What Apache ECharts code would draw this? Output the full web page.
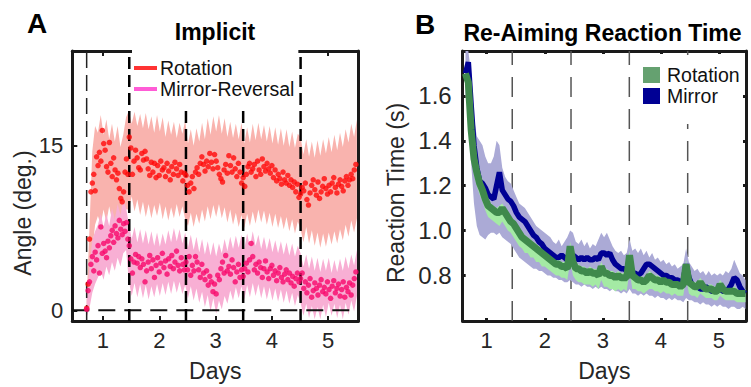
<!DOCTYPE html>
<html><head><meta charset="utf-8">
<script src="https://cdn.jsdelivr.net/npm/echarts@6/dist/echarts.min.js"></script>
<style>html,body{margin:0;padding:0;background:#fff}#c{width:751px;height:387px}</style>
</head><body><div id="c"></div>
<script>
// ---------------- Panel A data (Implicit angle, deg.) ----------------
const aDayTicks = [1, 2, 3, 4, 5];
const aYTicks = [0, 15];
const aBlockBounds = [0.71, 1.467, 2.474, 3.49, 4.51, 5.52];
const aDashLines = [1.467, 2.474, 3.49, 4.51];
const aFirstLine = 0.71;

const rotDay1 = [0.2, 2.4, 6.5, 10.8, 11.6, 12.4, 10.9, 14.0, 13.2, 14.4, 13.6, 16.4, 15.2, 14.6, 13.1, 12.6, 15.3, 13.4, 12.2, 13.9, 12.8, 11.9, 12.5, 11.1, 10.2, 9.9, 10.8, 12.6, 13.8, 12.4];
const rotDay2 = [15.8, 14.8, 12.4, 13.6, 14.6, 13.9, 13.0, 12.8, 14.3, 13.7, 14.5, 13.8, 12.9, 12.3, 13.5, 12.6, 13.4, 12.1, 13.2, 12.3, 13.6, 12.8, 13.0, 12.2, 13.4, 12.7, 11.9, 13.1, 12.4, 13.5, 12.9, 12.3, 13.3, 12.6, 11.8, 12.5];
const rotDay3 = [12.3, 11.4, 10.8, 11.6, 12.2, 11.1, 12.6, 13.0, 12.4, 13.4, 14.0, 13.3, 12.7, 13.6, 13.1, 14.3, 13.5, 12.9, 14.2, 13.6, 13.0, 12.4, 12.0, 11.7, 12.8, 13.3, 12.5, 14.1, 13.2, 12.6, 13.9, 12.9, 12.2, 13.4, 12.6, 11.6];
const rotDay4 = [12.1, 11.3, 12.4, 13.1, 13.4, 12.6, 12.9, 13.3, 12.2, 13.6, 12.8, 12.4, 13.8, 13.1, 12.7, 13.4, 12.9, 12.5, 13.2, 12.1, 12.8, 11.8, 12.4, 12.0, 11.5, 12.6, 11.9, 11.6, 12.3, 11.4, 11.9, 11.2, 11.7, 10.8, 11.5, 10.3];
const rotDay5 = [10.6, 11.2, 10.9, 11.6, 10.1, 9.6, 10.7, 11.4, 11.9, 11.0, 10.5, 11.7, 10.2, 10.8, 11.3, 12.0, 11.1, 10.6, 11.4, 10.8, 11.6, 12.1, 11.2, 10.7, 11.5, 11.9, 11.3, 10.9, 11.8, 12.2, 11.4, 11.9, 12.4, 12.0, 12.8, 13.3];

const mirDay1 = [0.1, 1.8, 2.6, 4.2, 4.9, 3.6, 5.3, 4.6, 5.9, 3.4, 7.6, 5.2, 6.1, 5.4, 4.8, 6.3, 5.7, 6.8, 7.3, 6.2, 7.7, 7.0, 6.6, 8.2, 7.4, 6.9, 7.9, 7.2, 8.0, 6.5];
const mirDay2 = [5.9, 4.7, 3.4, 4.4, 5.1, 4.3, 4.9, 3.9, 4.7, 4.2, 2.6, 3.6, 4.4, 5.0, 3.8, 4.6, 3.0, 4.1, 4.8, 3.5, 4.3, 5.2, 3.9, 4.5, 3.3, 4.7, 4.0, 5.0, 3.8, 4.4, 5.4, 4.1, 3.6, 4.8, 4.2, 3.7];
const mirDay3 = [4.4, 3.7, 4.9, 3.2, 4.1, 3.6, 4.9, 4.4, 3.7, 3.0, 4.2, 3.4, 2.8, 3.6, 2.3, 3.1, 2.6, 1.7, 2.4, 1.5, 3.2, 2.8, 3.8, 4.4, 3.4, 5.0, 3.6, 4.0, 3.3, 4.6, 3.9, 2.6, 3.5, 4.2, 3.0, 3.7];
const mirDay4 = [3.1, 3.8, 4.3, 3.5, 4.6, 6.1, 4.9, 3.7, 4.2, 3.4, 4.4, 3.9, 3.0, 3.8, 4.5, 3.5, 2.9, 3.8, 4.1, 3.2, 3.6, 2.7, 3.4, 3.9, 3.0, 2.6, 3.3, 3.7, 2.8, 3.4, 2.5, 3.1, 2.2, 2.9, 3.4, 2.6];
const mirDay5 = [2.9, 3.4, 2.0, 2.6, 1.6, 2.3, 2.9, 1.2, 1.8, 2.5, 2.0, 1.4, 2.3, 2.8, 1.7, 2.1, 1.5, 2.6, 1.9, 1.1, 2.2, 2.7, 1.6, 2.0, 2.4, 1.3, 1.9, 2.6, 1.2, 2.1, 1.7, 2.5, 1.4, 2.3, 2.9, 3.5];

// band samples: start 0.71, every 0.05 day
const aBandStart = 0.71, aBandStep = 0.05;
const rotUpper = [1.0, 7.5, 14.5, 16.8, 16.2,
  17.8, 16.0, 17.4, 15.6, 17.0, 15.4, 16.8, 14.9, 16.0, 17.6,
  18.2, 17.0, 18.1, 16.8, 17.9, 16.6, 18.0, 16.5, 17.7, 16.2, 17.8, 16.3, 17.6, 15.8, 17.3, 16.0, 17.2, 15.7, 17.1, 16.1,
  17.3, 15.2, 16.5, 15.0, 16.6, 15.4, 17.1, 15.6, 17.5, 16.0, 17.7, 16.3, 17.8, 16.1, 17.5, 15.8, 17.2, 15.7, 17.0, 15.6,
  17.1, 15.2, 16.7, 15.3, 17.0, 15.5, 17.1, 15.6, 16.9, 15.4, 16.8, 15.2, 16.7, 15.1, 16.6, 15.0, 16.5, 14.9, 16.3, 14.8, 16.1,
  15.8, 14.2, 15.6, 14.0, 15.4, 13.9, 15.5, 14.1, 15.6, 14.3, 15.8, 14.4, 16.0, 14.6, 16.2, 14.9, 16.5, 15.3, 17.0, 15.8, 17.4];
const rotLower = [-0.5, 1.0, 5.5, 7.8, 8.6,
  7.8, 9.2, 8.0, 9.5, 8.2, 7.6, 9.0, 7.5, 8.7, 9.2,
  9.2, 10.4, 9.0, 10.1, 8.7, 9.9, 8.5, 9.7, 8.4, 9.6, 8.6, 9.8, 8.3, 9.5, 8.2, 9.4, 8.4, 9.7, 8.5, 9.5,
  8.3, 7.7, 8.9, 7.6, 8.8, 7.9, 9.2, 8.1, 9.5, 8.3, 9.6, 8.5, 9.7, 8.4, 9.4, 8.0, 9.2, 7.8, 8.9, 7.6,
  8.7, 7.5, 8.8, 7.7, 9.0, 7.9, 9.2, 8.0, 9.1, 7.8, 8.9, 7.6, 8.8, 7.5, 8.6, 7.4, 8.5, 7.2, 8.3, 7.0, 8.1,
  7.4, 6.2, 7.6, 6.1, 7.3, 5.9, 7.1, 5.7, 7.0, 5.8, 7.1, 6.0, 7.2, 6.1, 7.4, 6.4, 7.8, 6.7, 8.2, 7.1, 8.4];
const mirUpper = [0.8, 4.0, 6.4, 7.2, 7.8,
  8.8, 7.6, 8.8, 7.7, 9.3, 8.3, 9.7, 8.7, 10.0, 9.3,
  7.9, 6.5, 7.6, 6.2, 7.4, 6.1, 7.3, 6.0, 7.2, 5.9, 7.1, 5.8, 7.0, 6.0, 7.3, 6.2, 7.5, 6.3, 7.4, 6.1,
  7.1, 5.7, 6.9, 5.5, 6.7, 5.3, 6.5, 5.1, 6.3, 5.0, 6.2, 4.9, 6.1, 5.2, 6.5, 5.4, 6.7, 5.6, 6.8, 5.7,
  6.9, 5.6, 7.0, 5.8, 7.2, 5.9, 6.9, 5.6, 6.7, 5.5, 6.6, 5.3, 6.4, 5.2, 6.3, 5.1, 6.2, 5.0, 6.1, 4.9, 5.9,
  5.2, 4.0, 5.1, 3.8, 4.9, 3.6, 4.8, 3.5, 4.7, 3.6, 4.8, 3.4, 4.6, 3.5, 4.7, 3.6, 4.9, 3.8, 5.1, 4.1, 5.5];
const mirLower = [-0.6, 0.2, 1.6, 2.4, 3.0,
  3.6, 2.8, 4.0, 3.2, 4.4, 3.6, 4.8, 4.0, 5.2, 5.5,
  2.7, 1.3, 2.5, 1.2, 2.4, 1.1, 2.3, 1.0, 2.2, 1.2, 2.4, 1.3, 2.5, 1.4, 2.6, 1.5, 2.7, 1.6, 2.6, 1.5,
  2.3, 1.1, 2.2, 0.9, 2.0, 0.7, 1.7, 0.3, 1.4, -0.1, 1.1, -0.3, 0.9, 0.1, 1.3, 0.6, 1.8, 0.9, 2.1, 1.1,
  2.2, 1.0, 2.3, 1.2, 2.5, 1.3, 2.4, 1.1, 2.2, 1.0, 2.1, 0.9, 2.0, 0.8, 1.9, 0.7, 1.8, 0.6, 1.6, 0.4, 1.4,
  0.7, -0.5, 0.6, -0.7, 0.4, -0.8, 0.3, -0.8, 0.5, -0.6, 0.7, -0.5, 0.6, -0.7, 0.5, -0.8, 0.7, -0.4, 0.9, -0.1, 1.3];

// ---------------- Panel B data (Re-aiming reaction time, s) ----------------
const bDayTicks = [1, 2, 3, 4, 5];
const bYTicks = [0.8, 1.0, 1.2, 1.4, 1.6];
const bDashLines = [1.44, 2.452, 3.456, 4.461];
const bStart = 0.635, bStep = 0.0487;
const mirrorRT = [1.70, 1.75, 1.56, 1.38, 1.28, 1.22, 1.21, 1.19, 1.16, 1.15,
  1.14, 1.20, 1.26, 1.18, 1.16, 1.14, 1.13, 1.11, 1.08, 1.06,
  1.05, 1.04, 1.02, 1.00, 0.98, 0.97, 0.95, 0.94, 0.92, 0.91,
  0.90, 0.89, 0.88, 0.88, 0.89, 0.88, 0.87, 0.88, 0.89, 0.88,
  0.87, 0.88, 0.87, 0.88, 0.87, 0.87, 0.88, 0.87, 0.90, 0.90,
  0.89, 0.90, 0.87, 0.85, 0.84, 0.83, 0.83, 0.82, 0.87, 0.81,
  0.81, 0.80, 0.81, 0.83, 0.85, 0.85, 0.84, 0.83, 0.82, 0.81,
  0.80, 0.80, 0.79, 0.79, 0.78, 0.78, 0.77, 0.78, 0.85, 0.79,
  0.76, 0.75, 0.75, 0.74, 0.74, 0.75, 0.74, 0.73, 0.73, 0.73,
  0.74, 0.73, 0.73, 0.74, 0.76, 0.79, 0.78, 0.75, 0.73, 0.72];
const rotationRT = [1.70, 1.66, 1.45, 1.32, 1.26, 1.21, 1.18, 1.14, 1.11, 1.10,
  1.09, 1.08, 1.08, 1.10, 1.08, 1.06, 1.04, 1.03, 1.01, 0.99,
  0.97, 0.96, 0.95, 0.94, 0.93, 0.92, 0.91, 0.90, 0.89, 0.88,
  0.87, 0.86, 0.85, 0.85, 0.84, 0.84, 0.83, 0.93, 0.86, 0.83,
  0.83, 0.82, 0.82, 0.81, 0.82, 0.81, 0.81, 0.80, 0.84, 0.81,
  0.81, 0.80, 0.80, 0.79, 0.80, 0.79, 0.79, 0.79, 0.89, 0.80,
  0.79, 0.78, 0.78, 0.77, 0.78, 0.80, 0.79, 0.78, 0.78, 0.77,
  0.78, 0.77, 0.77, 0.76, 0.76, 0.76, 0.75, 0.76, 0.85, 0.77,
  0.76, 0.75, 0.75, 0.77, 0.75, 0.74, 0.74, 0.74, 0.73, 0.73,
  0.76, 0.74, 0.73, 0.73, 0.73, 0.73, 0.72, 0.72, 0.72, 0.72];
const mirrorUp = [1.80, 1.80, 1.70, 1.50, 1.42, 1.40, 1.38, 1.33, 1.30, 1.30,
  1.33, 1.40, 1.38, 1.28, 1.24, 1.22, 1.21, 1.18, 1.15, 1.12,
  1.11, 1.10, 1.08, 1.06, 1.04, 1.02, 1.01, 1.00, 0.99, 0.98,
  0.97, 0.95, 0.94, 0.96, 0.93, 0.95, 0.97, 1.00, 0.99, 0.95,
  0.94, 0.96, 0.93, 0.95, 0.92, 0.94, 0.93, 0.96, 0.99, 0.97,
  0.99, 0.96, 0.93, 0.91, 0.90, 0.91, 0.89, 0.90, 0.96, 0.91,
  0.92, 0.90, 0.92, 0.89, 0.91, 0.88, 0.90, 0.87, 0.88, 0.86,
  0.87, 0.85, 0.86, 0.84, 0.85, 0.83, 0.84, 0.85, 0.92, 0.86,
  0.84, 0.82, 0.83, 0.81, 0.82, 0.80, 0.82, 0.80, 0.81, 0.80,
  0.81, 0.80, 0.82, 0.81, 0.83, 0.87, 0.84, 0.81, 0.80, 0.78];
const mirrorLo = [1.60, 1.62, 1.30, 1.12, 1.02, 0.98, 0.97, 0.96, 0.98, 0.99,
  0.99, 0.98, 0.99, 0.97, 0.96, 0.95, 0.94, 0.92, 0.90, 0.88,
  0.87, 0.86, 0.85, 0.84, 0.83, 0.83, 0.82, 0.82, 0.81, 0.80,
  0.80, 0.79, 0.79, 0.78, 0.78, 0.77, 0.77, 0.78, 0.77, 0.76,
  0.76, 0.75, 0.76, 0.75, 0.75, 0.74, 0.75, 0.74, 0.75, 0.74,
  0.74, 0.73, 0.74, 0.73, 0.73, 0.72, 0.73, 0.72, 0.74, 0.72,
  0.72, 0.71, 0.72, 0.71, 0.72, 0.71, 0.71, 0.70, 0.71, 0.70,
  0.70, 0.69, 0.70, 0.69, 0.70, 0.69, 0.69, 0.68, 0.70, 0.69,
  0.69, 0.68, 0.68, 0.67, 0.68, 0.67, 0.67, 0.66, 0.67, 0.66,
  0.67, 0.66, 0.66, 0.65, 0.66, 0.66, 0.65, 0.65, 0.66, 0.65];
const rotationUp = [1.74, 1.72, 1.52, 1.37, 1.30, 1.24, 1.21, 1.17, 1.14, 1.12,
  1.11, 1.10, 1.11, 1.12, 1.10, 1.08, 1.06, 1.05, 1.03, 1.01,
  0.99, 0.98, 0.97, 0.96, 0.95, 0.94, 0.93, 0.92, 0.91, 0.90,
  0.89, 0.88, 0.87, 0.87, 0.86, 0.86, 0.85, 0.95, 0.88, 0.85,
  0.85, 0.84, 0.84, 0.83, 0.84, 0.83, 0.83, 0.82, 0.86, 0.83,
  0.83, 0.82, 0.82, 0.81, 0.82, 0.81, 0.81, 0.81, 0.91, 0.82,
  0.81, 0.80, 0.80, 0.79, 0.80, 0.82, 0.81, 0.80, 0.80, 0.79,
  0.80, 0.79, 0.79, 0.78, 0.78, 0.78, 0.77, 0.78, 0.87, 0.79,
  0.78, 0.77, 0.77, 0.79, 0.77, 0.76, 0.76, 0.76, 0.75, 0.75,
  0.78, 0.76, 0.75, 0.75, 0.75, 0.75, 0.74, 0.74, 0.74, 0.74];
const rotationLo = [1.64, 1.58, 1.36, 1.25, 1.20, 1.16, 1.13, 1.09, 1.06, 1.05,
  1.04, 1.03, 1.02, 1.04, 1.02, 1.00, 0.99, 0.97, 0.95, 0.93,
  0.92, 0.90, 0.90, 0.88, 0.88, 0.86, 0.86, 0.84, 0.84, 0.83,
  0.82, 0.81, 0.80, 0.80, 0.79, 0.79, 0.78, 0.86, 0.80, 0.78,
  0.77, 0.77, 0.76, 0.76, 0.76, 0.75, 0.76, 0.74, 0.78, 0.75,
  0.75, 0.74, 0.74, 0.73, 0.74, 0.73, 0.74, 0.73, 0.82, 0.74,
  0.74, 0.73, 0.73, 0.72, 0.73, 0.74, 0.74, 0.73, 0.73, 0.72,
  0.73, 0.72, 0.72, 0.71, 0.72, 0.71, 0.71, 0.71, 0.79, 0.72,
  0.71, 0.71, 0.70, 0.72, 0.71, 0.70, 0.70, 0.70, 0.69, 0.69,
  0.71, 0.70, 0.69, 0.69, 0.69, 0.69, 0.68, 0.68, 0.68, 0.68];

// ---------------- build ----------------
const FONT = '"Liberation Sans", Arial, Helvetica, sans-serif';
const AX = {xMin: 0.455, xMax: 5.535, yMin: -0.97, yMax: 23.64};
const BX = {xMin: 0.587, xMax: 5.465, yMin: 0.597, yMax: 1.8};

function blockXY(blocks, bounds) {
  const out = [];
  blocks.forEach((vals, b) => {
    const x0 = bounds[b], x1 = bounds[b + 1], n = vals.length;
    vals.forEach((v, i) => out.push([x0 + (x1 - x0) * i / n, v]));
  });
  return out;
}
function gridX(start, step, n) { const r = []; for (let i = 0; i < n; i++) r.push(start + step * i); return r; }
function zip(xs, ys) { return ys.map((y, i) => [xs[i], y]); }

function band(name, xi, yi, xs, up, lo, color, z) {
  return {
    type: 'custom', name, xAxisIndex: xi, yAxisIndex: yi, z, silent: true, animation: false,
    data: [[xs[0], lo[0]]],
    renderItem: function (params, api) {
      const pts = [];
      for (let i = 0; i < xs.length; i++) pts.push(api.coord([xs[i], up[i]]));
      for (let i = xs.length - 1; i >= 0; i--) pts.push(api.coord([xs[i], lo[i]]));
      return {type: 'polygon', shape: {points: pts}, style: {fill: color, stroke: null}};
    }
  };
}
function vline(xi, yi, x, y0, y1, color, width, dash, z) {
  return {type: 'line', xAxisIndex: xi, yAxisIndex: yi, data: [[x, y0], [x, y1]], symbol: 'none', silent: true,
    z, animation: false, lineStyle: {color, width, type: dash}};
}

const aBandX = gridX(aBandStart, aBandStep, rotUpper.length);
const bX = gridX(bStart, bStep, mirrorRT.length);

const series = [];
// Panel A
series.push(band('rotBand', 0, 0, aBandX, rotUpper, rotLower, '#f9b3ae', 1));
series.push(band('mirBand', 0, 0, aBandX, mirUpper, mirLower, '#f8afd4', 1));
series.push({type: 'line', xAxisIndex: 0, yAxisIndex: 0, data: [[AX.xMin, 0], [AX.xMax, 0]], symbol: 'none', silent: true, z: 3, animation: false,
  lineStyle: {color: '#111', width: 2, type: [17, 9]}});
series.push(vline(0, 0, aFirstLine, AX.yMin, AX.yMax, '#222', 1.5, [16, 7], 3));
aDashLines.forEach(x => series.push(vline(0, 0, x, AX.yMin, AX.yMax, '#000', 2.5, [12, 6], 3)));
series.push({type: 'scatter', name: 'Rotation', xAxisIndex: 0, yAxisIndex: 0, symbolSize: 5.5, z: 4, animation: false,
  itemStyle: {color: '#ff0a0a'}, data: blockXY([rotDay1, rotDay2, rotDay3, rotDay4, rotDay5], aBlockBounds)});
series.push({type: 'scatter', name: 'Mirror-Reversal', xAxisIndex: 0, yAxisIndex: 0, symbolSize: 5.5, z: 4, animation: false,
  itemStyle: {color: '#f7086a'}, data: blockXY([mirDay1, mirDay2, mirDay3, mirDay4, mirDay5], aBlockBounds)});
// Panel B
bDashLines.forEach(x => series.push(vline(2, 2, x, BX.yMin, BX.yMax, '#555', 1.5, [20, 12], 1)));
series.push(band('mirRTBand', 2, 2, bX, mirrorUp, mirrorLo, '#abaad6', 2));
series.push(band('rotRTBand', 2, 2, bX, rotationUp, rotationLo, '#a4eaa4', 2));
series.push({type: 'line', name: 'Mirror', xAxisIndex: 2, yAxisIndex: 2, data: zip(bX, mirrorRT), symbol: 'none', z: 3, animation: false,
  lineStyle: {color: '#000094', width: 5.5}, itemStyle: {color: '#000094'}});
series.push({type: 'line', name: 'Rotation', xAxisIndex: 2, yAxisIndex: 2, data: zip(bX, rotationRT), symbol: 'none', z: 4, animation: false,
  lineStyle: {color: '#3f894c', width: 7}, itemStyle: {color: '#3f894c'}});

const boxLine = {show: true, onZero: false, lineStyle: {color: '#1a1a1a', width: 3}};
const labelStyle = {color: '#262626', fontSize: 22, fontFamily: FONT};
const bYLabelStyle = {color: '#262626', fontSize: 24, fontFamily: FONT};

const option = {
  animation: false,
  textStyle: {fontFamily: FONT},
  grid: [
    {left: 72.3, top: 51, width: 286, height: 280},
    {left: 462.7, top: 51, width: 283.3, height: 280.5}
  ],
  xAxis: [
    {gridIndex: 0, type: 'value', min: AX.xMin, max: AX.xMax, position: 'bottom', axisLine: boxLine, splitLine: {show: false},
      axisTick: {inside: true, length: 5, customValues: aDayTicks, lineStyle: {color: '#1a1a1a', width: 2}},
      axisLabel: Object.assign({customValues: aDayTicks, margin: 8}, labelStyle),
      name: 'Days', nameLocation: 'middle', nameGap: 38, nameTextStyle: {fontSize: 23, color: '#262626', fontFamily: FONT}},
    {gridIndex: 0, type: 'value', min: AX.xMin, max: AX.xMax, position: 'top', axisLine: boxLine, splitLine: {show: false},
      axisTick: {inside: true, length: 5, customValues: aDayTicks, lineStyle: {color: '#1a1a1a', width: 2}}, axisLabel: {show: false}},
    {gridIndex: 1, type: 'value', min: BX.xMin, max: BX.xMax, position: 'bottom', axisLine: boxLine, splitLine: {show: false},
      axisTick: {inside: true, length: 3, customValues: bDayTicks, lineStyle: {color: '#1a1a1a', width: 3}},
      axisLabel: Object.assign({customValues: bDayTicks, margin: 8}, labelStyle),
      name: 'Days', nameLocation: 'middle', nameGap: 38, nameTextStyle: {fontSize: 23, color: '#262626', fontFamily: FONT}},
    {gridIndex: 1, type: 'value', min: BX.xMin, max: BX.xMax, position: 'top', axisLine: boxLine, splitLine: {show: false},
      axisTick: {inside: true, length: 3, customValues: bDayTicks, lineStyle: {color: '#1a1a1a', width: 3}}, axisLabel: {show: false}}
  ],
  yAxis: [
    {gridIndex: 0, type: 'value', min: AX.yMin, max: AX.yMax, position: 'left', axisLine: boxLine, splitLine: {show: false},
      axisTick: {inside: true, length: 5, customValues: aYTicks, lineStyle: {color: '#1a1a1a', width: 2}},
      axisLabel: Object.assign({customValues: aYTicks, margin: 9}, labelStyle)},
    {gridIndex: 0, type: 'value', min: AX.yMin, max: AX.yMax, position: 'right', axisLine: boxLine, splitLine: {show: false},
      axisTick: {show: false}, axisLabel: {show: false}},
    {gridIndex: 1, type: 'value', min: BX.yMin, max: BX.yMax, position: 'left', axisLine: boxLine, splitLine: {show: false},
      axisTick: {inside: true, length: 3, customValues: bYTicks, lineStyle: {color: '#1a1a1a', width: 3}},
      axisLabel: Object.assign({customValues: bYTicks, margin: 11, formatter: v => v.toFixed(1)}, bYLabelStyle)},
    {gridIndex: 1, type: 'value', min: BX.yMin, max: BX.yMax, position: 'right', axisLine: boxLine, splitLine: {show: false},
      axisTick: {inside: true, length: 3, customValues: bYTicks, lineStyle: {color: '#1a1a1a', width: 3}}, axisLabel: {show: false}}
  ],
  legend: [
    {orient: 'vertical', left: 132, top: 50, padding: [8, 4, 10, 2], itemGap: 1, backgroundColor: '#fff', z: 10,
      itemWidth: 23, itemHeight: 4, selectedMode: false,
      textStyle: {fontSize: 19.5, color: '#111', fontFamily: FONT, padding: [0, 0, 0, -2]},
      data: [{name: 'Rotation', icon: 'rect', itemStyle: {color: '#ff0000'}},
             {name: 'Mirror-Reversal', icon: 'rect', itemStyle: {color: '#ff33cc'}}]},
    {orient: 'vertical', left: 640, top: 55, padding: [10, 3, 18, 3], itemGap: 1, backgroundColor: '#fff', z: 10,
      itemWidth: 17, itemHeight: 16, selectedMode: false,
      textStyle: {fontSize: 19.5, color: '#111', fontFamily: FONT, padding: [0, 0, 0, 2]},
      data: [{name: 'Rotation', icon: 'rect', itemStyle: {color: '#3f894c'}},
             {name: 'Mirror', icon: 'rect', itemStyle: {color: '#000094'}}]}
  ],
  graphic: [
    {type: 'text', x: 37, y: 23, style: {text: 'A', font: 'bold 28px ' + FONT, fill: '#000', align: 'center', verticalAlign: 'middle', textAlign: 'center', textVerticalAlign: 'middle'}},
    {type: 'text', x: 425, y: 24, style: {text: 'B', font: 'bold 28px ' + FONT, fill: '#000', align: 'center', verticalAlign: 'middle', textAlign: 'center', textVerticalAlign: 'middle'}},
    {type: 'text', x: 215, y: 32, style: {text: 'Implicit', font: 'bold 23px ' + FONT, fill: '#000', align: 'center', verticalAlign: 'middle', textAlign: 'center', textVerticalAlign: 'middle'}},
    {type: 'text', x: 602.5, y: 33, style: {text: 'Re-Aiming Reaction Time', font: 'bold 23px ' + FONT, fill: '#000', align: 'center', verticalAlign: 'middle', textAlign: 'center', textVerticalAlign: 'middle'}},
    {type: 'text', x: 22.5, y: 213, rotation: Math.PI / 2, style: {text: 'Angle (deg.)', font: '23px ' + FONT, fill: '#262626', align: 'center', verticalAlign: 'middle', textAlign: 'center', textVerticalAlign: 'middle'}},
    {type: 'text', x: 396, y: 193, rotation: Math.PI / 2, style: {text: 'Reaction Time (s)', font: '23px ' + FONT, fill: '#262626', align: 'center', verticalAlign: 'middle', textAlign: 'center', textVerticalAlign: 'middle'}}
  ],
  series
};

const chart = echarts.init(document.getElementById('c'), null, {renderer: 'svg', width: 751, height: 387});
chart.setOption(option);
</script></body></html>
